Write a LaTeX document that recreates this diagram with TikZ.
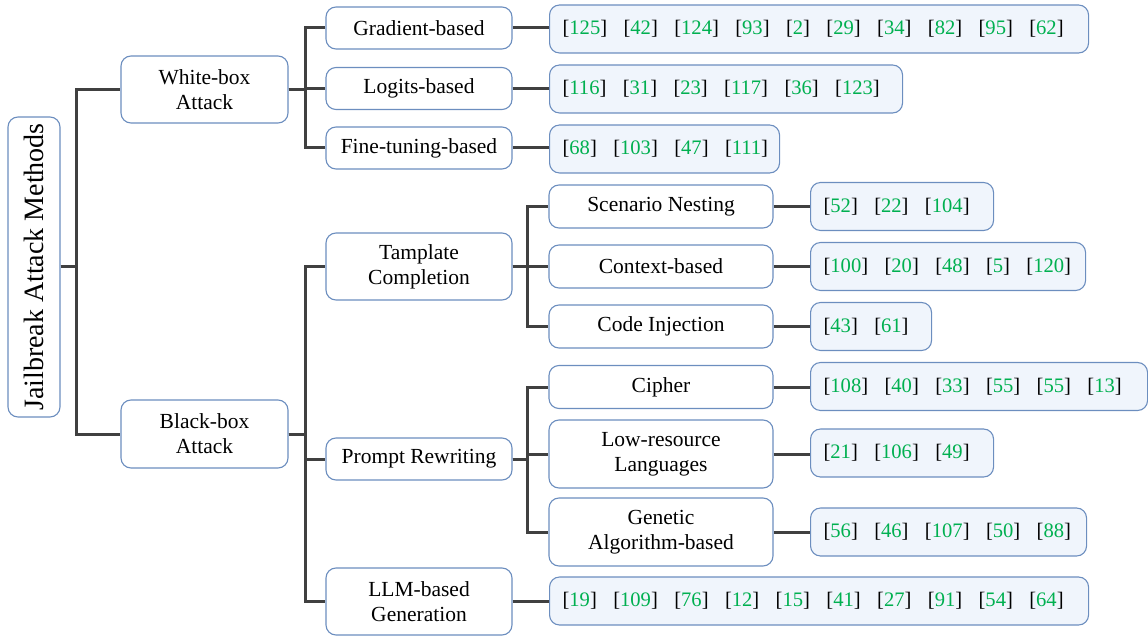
\documentclass[tikz,border=0pt]{standalone}
\usepackage{fontspec}
\setmainfont{Liberation Serif}
\usepackage{xcolor}
\definecolor{bordercol}{RGB}{108,142,191}
\definecolor{reffill}{RGB}{240,245,252}
\definecolor{refgreen}{RGB}{0,176,80}
\definecolor{linecol}{RGB}{64,64,64}
\newcommand\rf[1]{[\textcolor{refgreen}{#1}]}
\newcommand\sep{\hspace{16.4bp}}
\tikzset{
  box/.style={draw=bordercol, line width=1.1bp, rounded corners=10bp, fill=white,
    align=center, inner sep=0pt, font=\fontsize{21.5bp}{25bp}\selectfont},
  rootbox/.style={box, font=\fontsize{28bp}{32bp}\selectfont},
  refbox/.style={draw=bordercol, line width=1.1bp, rounded corners=10bp, fill=reffill,
    anchor=west, inner xsep=13bp, inner ysep=0pt, minimum height=48bp, align=left,
    font=\fontsize{20.6bp}{24bp}\selectfont},
  conn/.style={draw=linecol, line width=3bp},
}
\begin{document}
\begin{tikzpicture}[x=1bp,y=-1bp]
\useasboundingbox (0,0) rectangle (1148,637);
% root
\node[rootbox, minimum width=52bp, minimum height=300bp] (root) at (34,267) {\rotatebox{90}{Jailbreak Attack Methods}};
% level 1
\node[box, minimum width=167bp, minimum height=67bp] (wb) at (204.5,89.5) {White-box\\Attack};
\node[box, minimum width=167bp, minimum height=68bp] (bb) at (204.5,434) {Black-box\\Attack};
% level 2 (white-box)
\node[box, minimum width=186bp, minimum height=42bp] (grad) at (419,28) {Gradient-based};
\node[box, minimum width=186bp, minimum height=42bp] (logit) at (419,88.5) {Logits-based};
\node[box, minimum width=186bp, minimum height=42bp] (ft) at (419,148) {Fine-tuning-based};
% level 2 (black-box)
\node[box, minimum width=186bp, minimum height=67bp] (tc) at (419,266.5) {Tamplate\\Completion};
\node[box, minimum width=186bp, minimum height=42bp] (pr) at (419,459) {Prompt Rewriting};
\node[box, minimum width=186bp, minimum height=67bp] (llm) at (419,601.5) {LLM-based\\Generation};
% level 3
\node[box, minimum width=224bp, minimum height=43bp] (sn) at (661,206.5) {Scenario Nesting};
\node[box, minimum width=224bp, minimum height=43bp] (ctx) at (661,266.5) {Context-based};
\node[box, minimum width=224bp, minimum height=43bp] (ci) at (661,326.5) {Code Injection};
\node[box, minimum width=224bp, minimum height=43bp] (ciph) at (661,387) {Cipher};
\node[box, minimum width=224bp, minimum height=68bp] (low) at (661,454) {Low-resource\\Languages};
\node[box, minimum width=224bp, minimum height=68bp] (gen) at (661,532) {Genetic\\Algorithm-based};
% refs
\node[refbox, text width=513bp] (rgrad) at (549,29) {\mbox{\rf{125}\sep\rf{42}\sep\rf{124}\sep\rf{93}\sep\rf{2}\sep\rf{29}\sep\rf{34}\sep\rf{82}\sep\rf{95}\sep\rf{62}}};
\node[refbox, text width=327bp] (rlogit) at (549,89) {\mbox{\rf{116}\sep\rf{31}\sep\rf{23}\sep\rf{117}\sep\rf{36}\sep\rf{123}}};
\node[refbox, text width=204bp] (rft) at (549,149) {\mbox{\rf{68}\sep\rf{103}\sep\rf{47}\sep\rf{111}}};
\node[refbox, text width=157bp] (rsn) at (810,206.5) {\mbox{\rf{52}\sep\rf{22}\sep\rf{104}}};
\node[refbox, text width=249bp] (rctx) at (810,266.5) {\mbox{\rf{100}\sep\rf{20}\sep\rf{48}\sep\rf{5}\sep\rf{120}}};
\node[refbox, text width=95bp] (rci) at (810,326.5) {\mbox{\rf{43}\sep\rf{61}}};
\node[refbox, text width=311bp] (rciph) at (810,386.5) {\mbox{\rf{108}\sep\rf{40}\sep\rf{33}\sep\rf{55}\sep\rf{55}\sep\rf{13}}};
\node[refbox, text width=157bp] (rlow) at (810,453) {\mbox{\rf{21}\sep\rf{106}\sep\rf{49}}};
\node[refbox, text width=250bp] (rgen) at (810,532) {\mbox{\rf{56}\sep\rf{46}\sep\rf{107}\sep\rf{50}\sep\rf{88}}};
\node[refbox, text width=513bp] (rllm) at (549,601) {\mbox{\rf{19}\sep\rf{109}\sep\rf{76}\sep\rf{12}\sep\rf{15}\sep\rf{41}\sep\rf{27}\sep\rf{91}\sep\rf{54}\sep\rf{64}}};
% connectors
\draw[conn] (root.east) -- ++(16,0) |- (wb.west);
\draw[conn] (root.east) -- ++(16,0) |- (bb.west);
\foreach \c in {grad,logit,ft} \draw[conn] (wb.east) -- ++(17,0) |- (\c.west);
\foreach \c in {tc,pr,llm} \draw[conn] (bb.east) -- ++(17,0) |- (\c.west);
\foreach \c in {sn,ctx,ci} \draw[conn] (tc.east) -- ++(15,0) |- (\c.west);
\foreach \c in {ciph,low,gen} \draw[conn] (pr.east) -- ++(15,0) |- (\c.west);
\foreach \a/\b in {grad/rgrad,logit/rlogit,ft/rft,sn/rsn,ctx/rctx,ci/rci,ciph/rciph,low/rlow,gen/rgen,llm/rllm}
  \draw[conn] (\a.east) -- (\a.east -| \b.west);
\end{tikzpicture}
\end{document}
